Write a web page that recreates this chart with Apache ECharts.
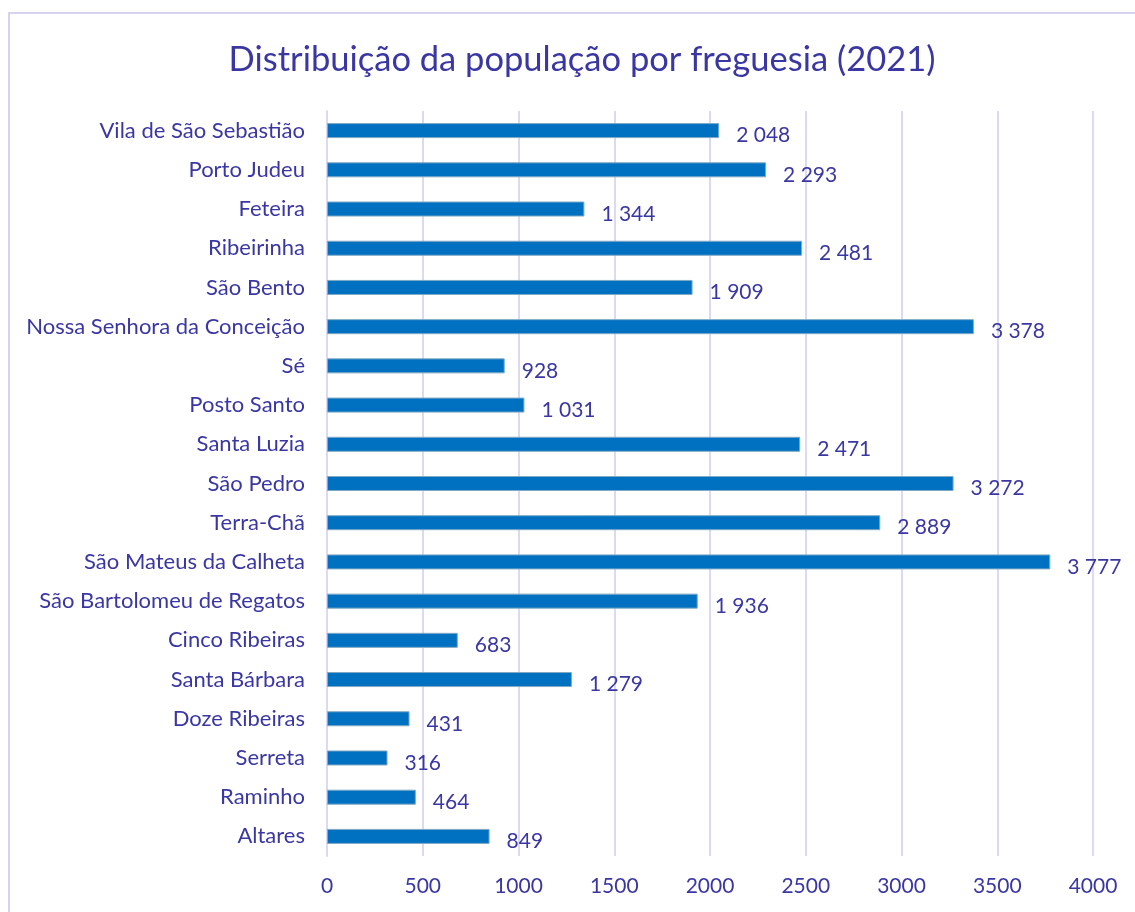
<!DOCTYPE html>
<html>
<head>
<meta charset="utf-8">
<script src="https://cdn.jsdelivr.net/npm/echarts@6/dist/echarts.min.js"></script>
<style>
  html, body { margin: 0; padding: 0; background: #fff; }
  #frame { position: absolute; left: 8px; top: 12px; width: 1140px; height: 920px; border: 2px solid #d5d3f0; box-sizing: border-box; }
  #chart { position: absolute; left: 0; top: 0; width: 1135px; height: 912px; }
</style>
</head>
<body>
<div id="frame"></div>
<div id="chart"></div>
<script>
// freguesias, de baixo para cima
let freguesias = ['Altares', 'Raminho', 'Serreta', 'Doze Ribeiras', 'Santa Bárbara', 'Cinco Ribeiras',
    'São Bartolomeu de Regatos', 'São Mateus da Calheta', 'Terra-Chã', 'São Pedro', 'Santa Luzia',
    'Posto Santo', 'Sé', 'Nossa Senhora da Conceição', 'São Bento', 'Ribeirinha', 'Feteira',
    'Porto Judeu', 'Vila de São Sebastião'];
let populacao = [849, 464, 316, 431, 1279, 683, 1936, 3777, 2889, 3272, 2471, 1031, 928, 3378, 1909, 2481, 1344, 2293, 2048];

let txt = '#3a37a3';
let font = 'Lato, "Open Sans", sans-serif';

let chart = echarts.init(document.getElementById('chart'));

chart.setOption({
    title: {
        text: 'Distribuição da população por freguesia (2021)',
        left: 577,
        textAlign: 'center',
        top: 37,
        textStyle: { color: txt, fontSize: 34.5, fontWeight: 'normal', fontFamily: font }
    },
    grid: { left: 327, right: 42, top: 111, bottom: 56 },
    xAxis: {
        type: 'value',
        min: 0,
        max: 4000,
        interval: 500,
        axisLine: { show: false },
        axisTick: { show: false },
        splitLine: { lineStyle: { color: '#dcd9f2', width: 2 } },
        axisLabel: {
            color: txt, fontSize: 21, fontFamily: font, margin: 20,
            formatter: function (v) { return String(v); }
        }
    },
    yAxis: {
        type: 'category',
        data: freguesias,
        axisLine: { show: true, lineStyle: { color: '#dcd9f2', width: 2 } },
        axisTick: { show: false },
        axisLabel: { color: txt, fontSize: 22, fontFamily: font, margin: 22 }
    },
    series: [{
        type: 'bar',
        data: populacao,
        barWidth: 15,
        itemStyle: { color: '#0070c0', borderColor: '#7fa9c4', borderWidth: 1 },
        label: {
            show: true,
            position: 'right',
            distance: 17,
            color: txt,
            fontSize: 21,
            fontFamily: font,
            offset: [0, 5],
            formatter: function (p) {
                return String(p.value).replace(/\B(?=(\d{3})+(?!\d))/g, ' ');
            }
        },
        animation: false
    }]
});
</script>
</body>
</html>
